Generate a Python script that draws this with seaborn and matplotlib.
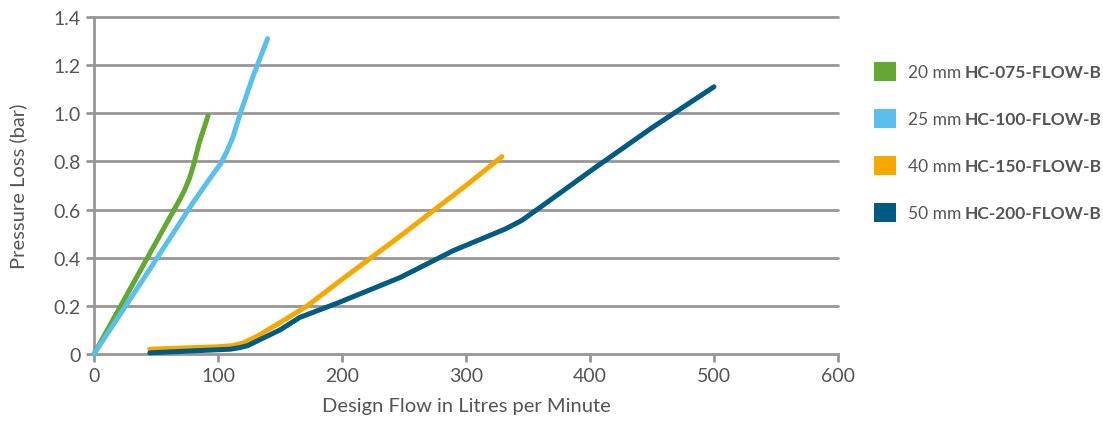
import numpy as np
import pandas as pd
import seaborn as sns
import matplotlib.pyplot as plt
from matplotlib.patches import Patch

# datos
x_20 = [0, 35, 69, 73, 77, 80, 85, 92]
y_20 = [0, 0.325, 0.64, 0.68, 0.73, 0.78, 0.88, 0.99]
x_25 = [0, 46, 80, 95, 102, 107, 112, 118, 128, 140]
y_25 = [0, 0.36, 0.63, 0.74, 0.79, 0.84, 0.90, 1.00, 1.15, 1.31]
x_40 = [45, 100, 112, 120, 126, 132, 140, 150, 172, 200, 247, 300, 329]
y_40 = [0.02, 0.03, 0.035, 0.045, 0.06, 0.075, 0.1, 0.13, 0.2, 0.31, 0.49, 0.70, 0.82]
x_50 = [45, 110, 118, 124, 130, 138, 150, 166, 198, 247, 290, 318, 332, 345, 360, 403, 450, 500]
y_50 = [0.005, 0.02, 0.027, 0.035, 0.05, 0.07, 0.1, 0.152, 0.215, 0.318, 0.43, 0.49, 0.52, 0.555, 0.61, 0.77, 0.94, 1.11]

sizes = ["20 mm", "25 mm", "40 mm", "50 mm"]
models = ["HC-075-FLOW-B", "HC-100-FLOW-B", "HC-150-FLOW-B", "HC-200-FLOW-B"]
colores = ["#62a833", "#5bbfec", "#f5a800", "#005b82"]

frames = []
for s, xs, ys in zip(sizes, [x_20, x_25, x_40, x_50], [y_20, y_25, y_40, y_50]):
    frames.append(pd.DataFrame({"flow": xs, "loss": ys, "size": s}))
df = pd.concat(frames, ignore_index=True)

sns.set_style("white")
plt.rcParams["font.family"] = ["Lato", "DejaVu Sans"]
gris = "#999694"
texto = "#555555"

fig = plt.figure(figsize=(11.03, 4.27), dpi=100)
ax = fig.add_axes([94 / 1103, 72 / 427, 744 / 1103, 337 / 427])

for y in np.arange(0.2, 1.41, 0.2):
    ax.axhline(y, color=gris, lw=2, zorder=1)

sns.lineplot(data=df, x="flow", y="loss", hue="size", palette=colores, sort=False,
             estimator=None, units="size", lw=3.6, legend=False, ax=ax, zorder=3)
for l in ax.lines:
    l.set_solid_capstyle("round")
    l.set_solid_joinstyle("round")
    l.set_clip_on(False)

ax.set_xlim(0, 600)
ax.set_ylim(0, 1.4)
ax.set_xticks(range(0, 601, 100))
ax.set_yticks(np.arange(0, 1.41, 0.2))
ax.set_yticklabels(["0"] + [f"{v:.1f}" for v in np.arange(0.2, 1.41, 0.2)])
ax.tick_params(axis="both", colors=gris, labelcolor=texto, labelsize=14,
               length=6, width=2, direction="out", bottom=True, left=True)
for side in ["top", "right"]:
    ax.spines[side].set_visible(False)
for side in ["left", "bottom"]:
    ax.spines[side].set_color(gris)
    ax.spines[side].set_linewidth(2)
ax.set_xlabel("Design Flow in Litres per Minute", fontsize=14.5, color=texto, labelpad=9)
ax.set_ylabel("Pressure Loss (bar)", fontsize=14.5, color=texto, labelpad=19)

handles = [Patch(facecolor=c, edgecolor="none") for c in colores]
leg = fig.legend(handles, sizes, loc="upper left", bbox_to_anchor=(858 / 1103, 1 - 47 / 427),
                 frameon=False, fontsize=12.5, labelcolor=texto, handlelength=1.3,
                 handleheight=1.3, handletextpad=0.7, labelspacing=1.62)

fig.canvas.draw()
r = fig.canvas.get_renderer()
for t, m in zip(leg.get_texts(), models):
    bb = t.get_window_extent(r)
    fig.text((bb.x1 + 3) / 1103, (bb.y0 + bb.y1) / 2 / 427, m, fontsize=12.5,
             fontweight="bold", color=texto, va="center", ha="left")

fig.savefig("out.png", dpi=100)
